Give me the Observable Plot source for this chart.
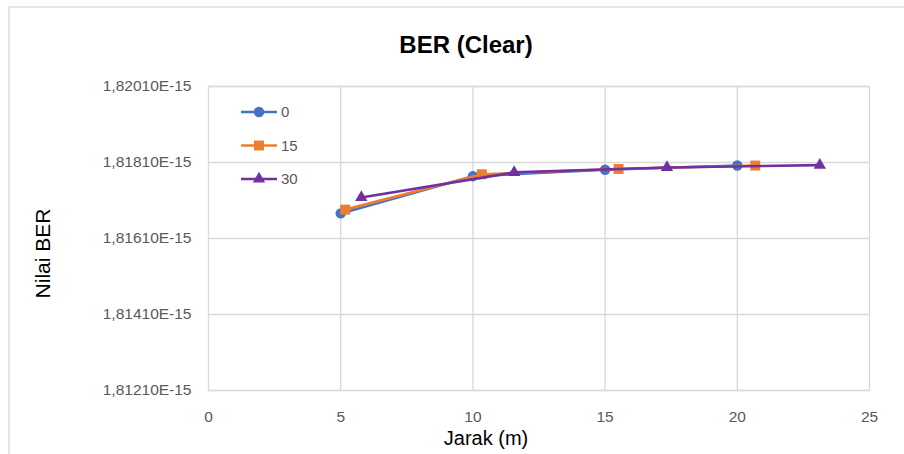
<!DOCTYPE html>
<html>
<head>
<meta charset="utf-8">
<script src="https://cdn.jsdelivr.net/npm/d3@7"></script>
<script src="https://cdn.jsdelivr.net/npm/@observablehq/plot@0.6"></script>
<style>
  html, body { margin: 0; padding: 0; background: #fff; }
  #wrap { position: relative; width: 904px; height: 454px; overflow: hidden; font-family: "Liberation Sans", Arial, sans-serif; }
  #wrap svg { display: block; }
  #legend { position: absolute; left: 0; top: 0; pointer-events: none; }
  #wrap g[aria-label$="tick label"] text, #wrap g[aria-label$="tick label"] { font-size: 15.5px !important; }
</style>
</head>
<body>
<div id="wrap"></div>
<script>
// ---- data ----
const seriesNames = ["0", "15", "30"];
const seriesColors = ["#4472C4", "#ED7D31", "#7030A0"];
const seriesSymbols = ["circle", "square", "triangle"];
const x0  = [5, 10, 15, 20];
const y0  = [1.81676e-15, 1.81774e-15, 1.81791e-15, 1.81802e-15];
const x15 = [5.17, 10.34, 15.51, 20.68];
const y15 = [1.81686e-15, 1.81779e-15, 1.81793e-15, 1.81802e-15];
const x30 = [5.78, 11.56, 17.34, 23.12];
const y30 = [1.81718e-15, 1.81784e-15, 1.81797e-15, 1.81803e-15];
const xTicks = [0, 5, 10, 15, 20, 25];
const yTicks = [1.81210e-15, 1.81410e-15, 1.81610e-15, 1.81810e-15, 1.82010e-15];
const titleText = "BER (Clear)";
const xLabel = "Jarak (m)";
const yLabel = "Nilai BER";

const seriesX = [x0, x15, x30];
const seriesY = [y0, y15, y30];
const rows = [];
seriesNames.forEach((s, i) => seriesX[i].forEach((x, j) => rows.push({series: s, x, y: seriesY[i][j]})));

const fmtY = d => (d * 1e15).toFixed(5).replace(".", ",") + "E-15";
const grid = "#d9d9d9";
const tickColor = "#595959";
const dotR = {"0": 5.2, "15": 5.6, "30": 4.6};

const marks = [
  // outer chart border (top & left visible)
  () => {
    const r = document.createElementNS("http://www.w3.org/2000/svg", "rect");
    r.setAttribute("x", 9); r.setAttribute("y", 7);
    r.setAttribute("width", 1000); r.setAttribute("height", 1000);
    r.setAttribute("fill", "none"); r.setAttribute("stroke", grid); r.setAttribute("stroke-width", 1.3);
    return r;
  },
  Plot.gridY(yTicks, {stroke: grid, strokeOpacity: 1, strokeWidth: 1.3}),
  Plot.gridX([5, 10, 15, 20], {stroke: grid, strokeOpacity: 1, strokeWidth: 1.3}),
  Plot.frame({stroke: grid, strokeWidth: 1.3}),
  Plot.axisY(yTicks, {tickSize: 0, tickPadding: 17, tickFormat: fmtY, fontSize: 15.5, fill: tickColor, label: null}),
  Plot.axisX(xTicks, {tickSize: 0, tickPadding: 20, fontSize: 15.5, fill: tickColor, label: null}),
];
seriesNames.forEach((s, i) => {
  const d = rows.filter(r => r.series === s);
  marks.push(Plot.line(d, {x: "x", y: "y", stroke: seriesColors[i], strokeWidth: 2.6}));
  marks.push(Plot.dot(d, {x: "x", y: "y", fill: seriesColors[i], stroke: "none", symbol: seriesSymbols[i], r: dotR[s]}));
});
marks.push(
  Plot.text([titleText], {frameAnchor: "top", dx: -73, dy: -41, fontSize: 24, fontWeight: "bold", fill: "#000", textAnchor: "middle", lineAnchor: "middle"}),
  Plot.text([xLabel], {frameAnchor: "bottom", dx: -53, dy: 48, fontSize: 20, fill: "#000", textAnchor: "middle", lineAnchor: "middle"}),
  Plot.text([yLabel], {frameAnchor: "left", dx: -165, dy: 15, rotate: -90, fontSize: 21, fill: "#000", textAnchor: "middle", lineAnchor: "middle"})
);

const chart = Plot.plot({
  width: 904,
  height: 454,
  marginLeft: 208,
  marginRight: 35,
  marginTop: 86,
  marginBottom: 64,
  style: {fontFamily: "'Liberation Sans', Arial, sans-serif", fontSize: "14px", background: "#fff", overflow: "visible"},
  x: {domain: [0, 25]},
  y: {domain: [1.81210e-15, 1.82010e-15]},
  marks
});
document.getElementById("wrap").appendChild(chart);

// ---- legend overlay ----
const leg = d3.select("#wrap").append("svg").attr("id", "legend").attr("width", 904).attr("height", 454);
const rowY = [112, 145.5, 179];
seriesNames.forEach((s, i) => {
  const g = leg.append("g").attr("transform", `translate(0,${rowY[i]})`);
  g.append("line").attr("x1", 241).attr("x2", 277).attr("y1", 0).attr("y2", 0)
    .attr("stroke", seriesColors[i]).attr("stroke-width", 2.6);
  const sym = {circle: d3.symbolCircle, square: d3.symbolSquare, triangle: d3.symbolTriangle}[seriesSymbols[i]];
  g.append("path").attr("transform", "translate(259,0)")
    .attr("d", d3.symbol(sym, Math.PI * dotR[s] * dotR[s])())
    .attr("fill", seriesColors[i]);
  g.append("text").attr("x", 281).attr("y", 0).attr("dy", "0.35em")
    .attr("font-size", 15).attr("fill", tickColor)
    .attr("font-family", "'Liberation Sans', Arial, sans-serif").text(s);
});
</script>
</body>
</html>
